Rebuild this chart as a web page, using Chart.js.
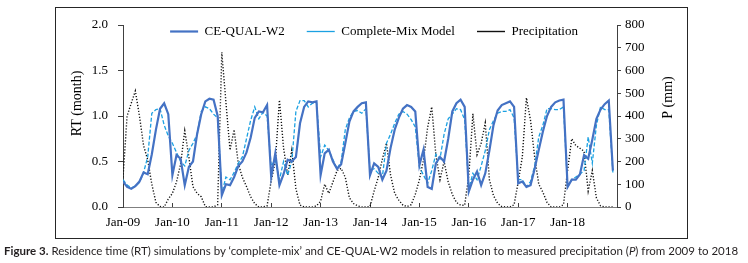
<!DOCTYPE html>
<html>
<head>
<meta charset="utf-8">
<script src="https://cdn.jsdelivr.net/npm/chart.js@4.4.1/dist/chart.umd.min.js"></script>
<style>
html,body{margin:0;padding:0;background:#fff;}
#wrap{position:relative;width:748px;height:263px;overflow:hidden;background:#fff;}
#c{position:absolute;left:0;top:0;}
#frame{position:absolute;left:55px;top:7px;width:633px;height:232px;box-sizing:border-box;border:1px solid #262626;pointer-events:none;}
#cap{position:absolute;left:4px;top:244px;font-family:Lato,'Open Sans',sans-serif;font-size:11.5px;line-height:14px;color:#231f20;white-space:nowrap;}
#cap b{font-weight:700;}
</style>
</head>
<body>
<div id="wrap">
  <canvas id="c" width="748" height="263"></canvas>
  <div id="frame"></div>
  <div id="cap"><b>Figure 3.</b> Residence time (RT) simulations by ‘complete-mix’ and CE-QUAL-W2 models in relation to measured precipitation (<i>P</i>) from 2009 to 2018</div>
</div>
<script>
// ---- data (monthly, Jan-09 .. Dec-18) ----
const yearTicks = ['Jan-09','Jan-10','Jan-11','Jan-12','Jan-13','Jan-14','Jan-15','Jan-16','Jan-17','Jan-18'];
const seriesNames = ['CE-QUAL-W2', 'Complete-Mix Model', 'Precipitation'];
const axisTitles = { left: 'RT (month)', right: 'P (mm)' };

const ceQualW2 = [
  0.28,0.22,0.20,0.23,0.28,0.38,0.36,0.58,0.85,1.08,1.14,1.02,
  0.35,0.57,0.53,0.24,0.44,0.50,0.80,1.02,1.16,1.19,1.18,1.00,
  0.13,0.25,0.24,0.33,0.45,0.50,0.60,0.76,0.98,1.05,1.04,1.12,
  0.33,0.59,0.24,0.36,0.52,0.50,0.55,0.92,1.10,1.16,1.15,1.16,
  0.35,0.59,0.63,0.50,0.42,0.47,0.70,0.94,1.05,1.10,1.14,1.15,
  0.35,0.48,0.44,0.30,0.40,0.65,0.85,0.98,1.08,1.12,1.10,1.05,
  0.46,0.63,0.22,0.20,0.48,0.55,0.50,0.75,1.05,1.14,1.18,1.10,
  0.17,0.30,0.39,0.24,0.37,0.62,0.90,1.06,1.12,1.14,1.16,1.10,
  0.26,0.28,0.22,0.24,0.42,0.63,0.83,1.00,1.10,1.15,1.17,1.18,
  0.22,0.30,0.30,0.36,0.57,0.53,0.74,0.97,1.07,1.13,1.17,0.40
];

const completeMix = [
  0.30,0.24,0.21,0.23,0.27,0.38,0.55,1.03,1.07,1.08,0.90,0.78,
  0.70,0.60,0.50,0.45,0.62,0.70,0.80,1.05,1.10,1.08,1.02,0.98,
  0.15,0.33,0.30,0.38,0.48,0.55,0.75,0.95,1.10,0.97,1.04,1.00,
  0.45,0.52,0.30,0.50,0.35,0.50,1.05,1.17,1.17,1.10,1.14,1.15,
  0.55,0.68,0.62,0.52,0.42,0.50,0.85,0.98,1.05,1.06,1.03,1.08,
  0.40,0.42,0.37,0.33,0.70,0.80,0.92,1.02,1.05,1.02,0.96,0.88,
  0.44,0.35,0.26,0.40,0.58,0.53,0.80,0.97,1.02,1.08,1.07,0.96,
  0.20,0.37,0.30,0.45,0.62,0.85,0.95,1.03,1.05,1.05,1.07,0.98,
  0.30,0.30,0.22,0.28,0.45,0.77,0.90,1.08,1.08,1.07,1.07,1.10,
  0.22,0.30,0.33,0.36,0.40,0.77,0.48,0.90,1.10,1.07,1.07,0.38
];

const precipitation = [
  130,400,456,510,400,270,207,100,20,2,0,35,
  60,110,190,335,220,89,60,45,2,0,0,10,
  680,460,250,340,190,130,90,45,15,0,0,5,
  115,200,470,260,140,250,80,8,0,0,0,5,
  25,100,60,110,160,170,130,40,15,5,0,0,
  2,70,130,210,280,140,60,30,8,2,10,55,
  120,207,350,440,230,120,200,110,55,20,8,8,
  140,410,230,280,370,120,50,16,2,0,0,10,
  110,220,480,380,220,100,65,20,0,0,0,10,
  160,300,270,258,245,70,160,40,5,0,0,0
];

// ---- helpers ----
const toPoints = arr => arr.map((v, i) => ({ x: i, y: v }));
const SERIF = "'Liberation Serif', 'Times New Roman', serif";
const tickFont = { family: SERIF, size: 13 };
const INK = '#000';
const AXIS = '#404040';

const tweaks = {
  id: 'tweaks',
  beforeLayout(chart) {
    const lg = chart.legend;
    if (lg && !lg.__patched) {
      const orig = lg.fit;
      lg.fit = function () { orig.call(this); this.height = 0; };
      lg.__patched = true;
    }
  },
  afterLayout(chart) {
    const lg = chart.legend;
    if (!lg) return;
    const a = chart.chartArea;
    lg.top = a.top - 22;
    lg.bottom = lg.top + 57;
    lg.left = a.left + 4;
    lg.right = a.right + 4;
    lg.width = lg.right - lg.left;
  },
  afterDraw(chart) {
    const ctx = chart.ctx, a = chart.chartArea;
    ctx.save();
    ctx.fillStyle = INK;
    ctx.font = "14px " + SERIF;
    ctx.textAlign = 'center';
    ctx.textBaseline = 'middle';
    const rot = (txt, x, y) => {
      ctx.save(); ctx.translate(x, y); ctx.rotate(-Math.PI / 2); ctx.fillText(txt, 0, 0); ctx.restore();
    };
    rot(axisTitles.left, a.left - 46, a.top + 78.5);
    rot(axisTitles.right, a.right + 51, a.top + 72.5);
    ctx.restore();
  }
};

new Chart(document.getElementById('c'), {
  type: 'line',
  data: {
    datasets: [
      { label: seriesNames[0], data: toPoints(ceQualW2), yAxisID: 'y',
        borderColor: '#4472C4', backgroundColor: '#4472C4', borderWidth: 2.2,
        pointRadius: 0, tension: 0 },
      { label: seriesNames[1], data: toPoints(completeMix), yAxisID: 'y',
        borderColor: '#1BA1E2', backgroundColor: '#1BA1E2', borderWidth: 1.3, borderDash: [4, 2],
        pointRadius: 0, tension: 0 },
      { label: seriesNames[2], data: toPoints(precipitation), yAxisID: 'y1',
        borderColor: '#111', backgroundColor: '#111', borderWidth: 1.4, borderDash: [1.2, 1.8],
        pointRadius: 0, tension: 0 }
    ]
  },
  options: {
    responsive: false,
    animation: false,
    devicePixelRatio: 1,
    layout: { padding: { left: 55, right: 60, top: 25, bottom: 25 } },
    scales: {
      x: {
        type: 'linear', min: 0, max: 120,
        afterFit: s => { s.height = 31; },
        ticks: {
          stepSize: 12, autoSkip: false, maxRotation: 0, padding: 12,
          font: tickFont, color: INK,
          callback: v => (yearTicks[Math.round(v / 12)] ?? '')
        },
        grid: { drawOnChartArea: false, drawTicks: true, tickLength: -4, color: AXIS },
        border: { color: '#7f7f7f', width: 1 }
      },
      y: {
        position: 'left', min: 0, max: 2,
        afterFit: s => { s.width = 68; },
        ticks: { stepSize: 0.5, padding: 10, font: tickFont, color: INK, callback: v => Number(v).toFixed(1) },
        grid: { drawOnChartArea: false, drawTicks: true, tickLength: 5, color: AXIS },
        border: { color: AXIS, width: 1 }
      },
      y1: {
        position: 'right', min: 0, max: 800,
        afterFit: s => { s.width = 71; },
        ticks: { stepSize: 100, padding: 4, font: tickFont, color: INK },
        grid: { drawOnChartArea: false, drawTicks: true, tickLength: 4, color: AXIS },
        border: { color: AXIS, width: 1 }
      }
    },
    plugins: {
      legend: {
        display: true, position: 'top', align: 'center',
        labels: {
          usePointStyle: true, pointStyle: 'line', pointStyleWidth: 28,
          boxWidth: 28, boxHeight: 13, padding: 22,
          color: INK, font: { family: SERIF, size: 13 }
        }
      },
      tooltip: { enabled: false }
    }
  },
  plugins: [tweaks]
});

// fit caption to the reference width
function fitCaption() {
  const cap = document.getElementById('cap');
  const target = 734;
  let fs = 11.5;
  cap.style.fontSize = fs + 'px';
  const w = cap.scrollWidth;
  if (w > 0) {
    fs = fs * target / w;
    cap.style.fontSize = fs.toFixed(2) + 'px';
  }
}
fitCaption();
if (document.fonts && document.fonts.ready) document.fonts.ready.then(fitCaption);
</script>
</body>
</html>
